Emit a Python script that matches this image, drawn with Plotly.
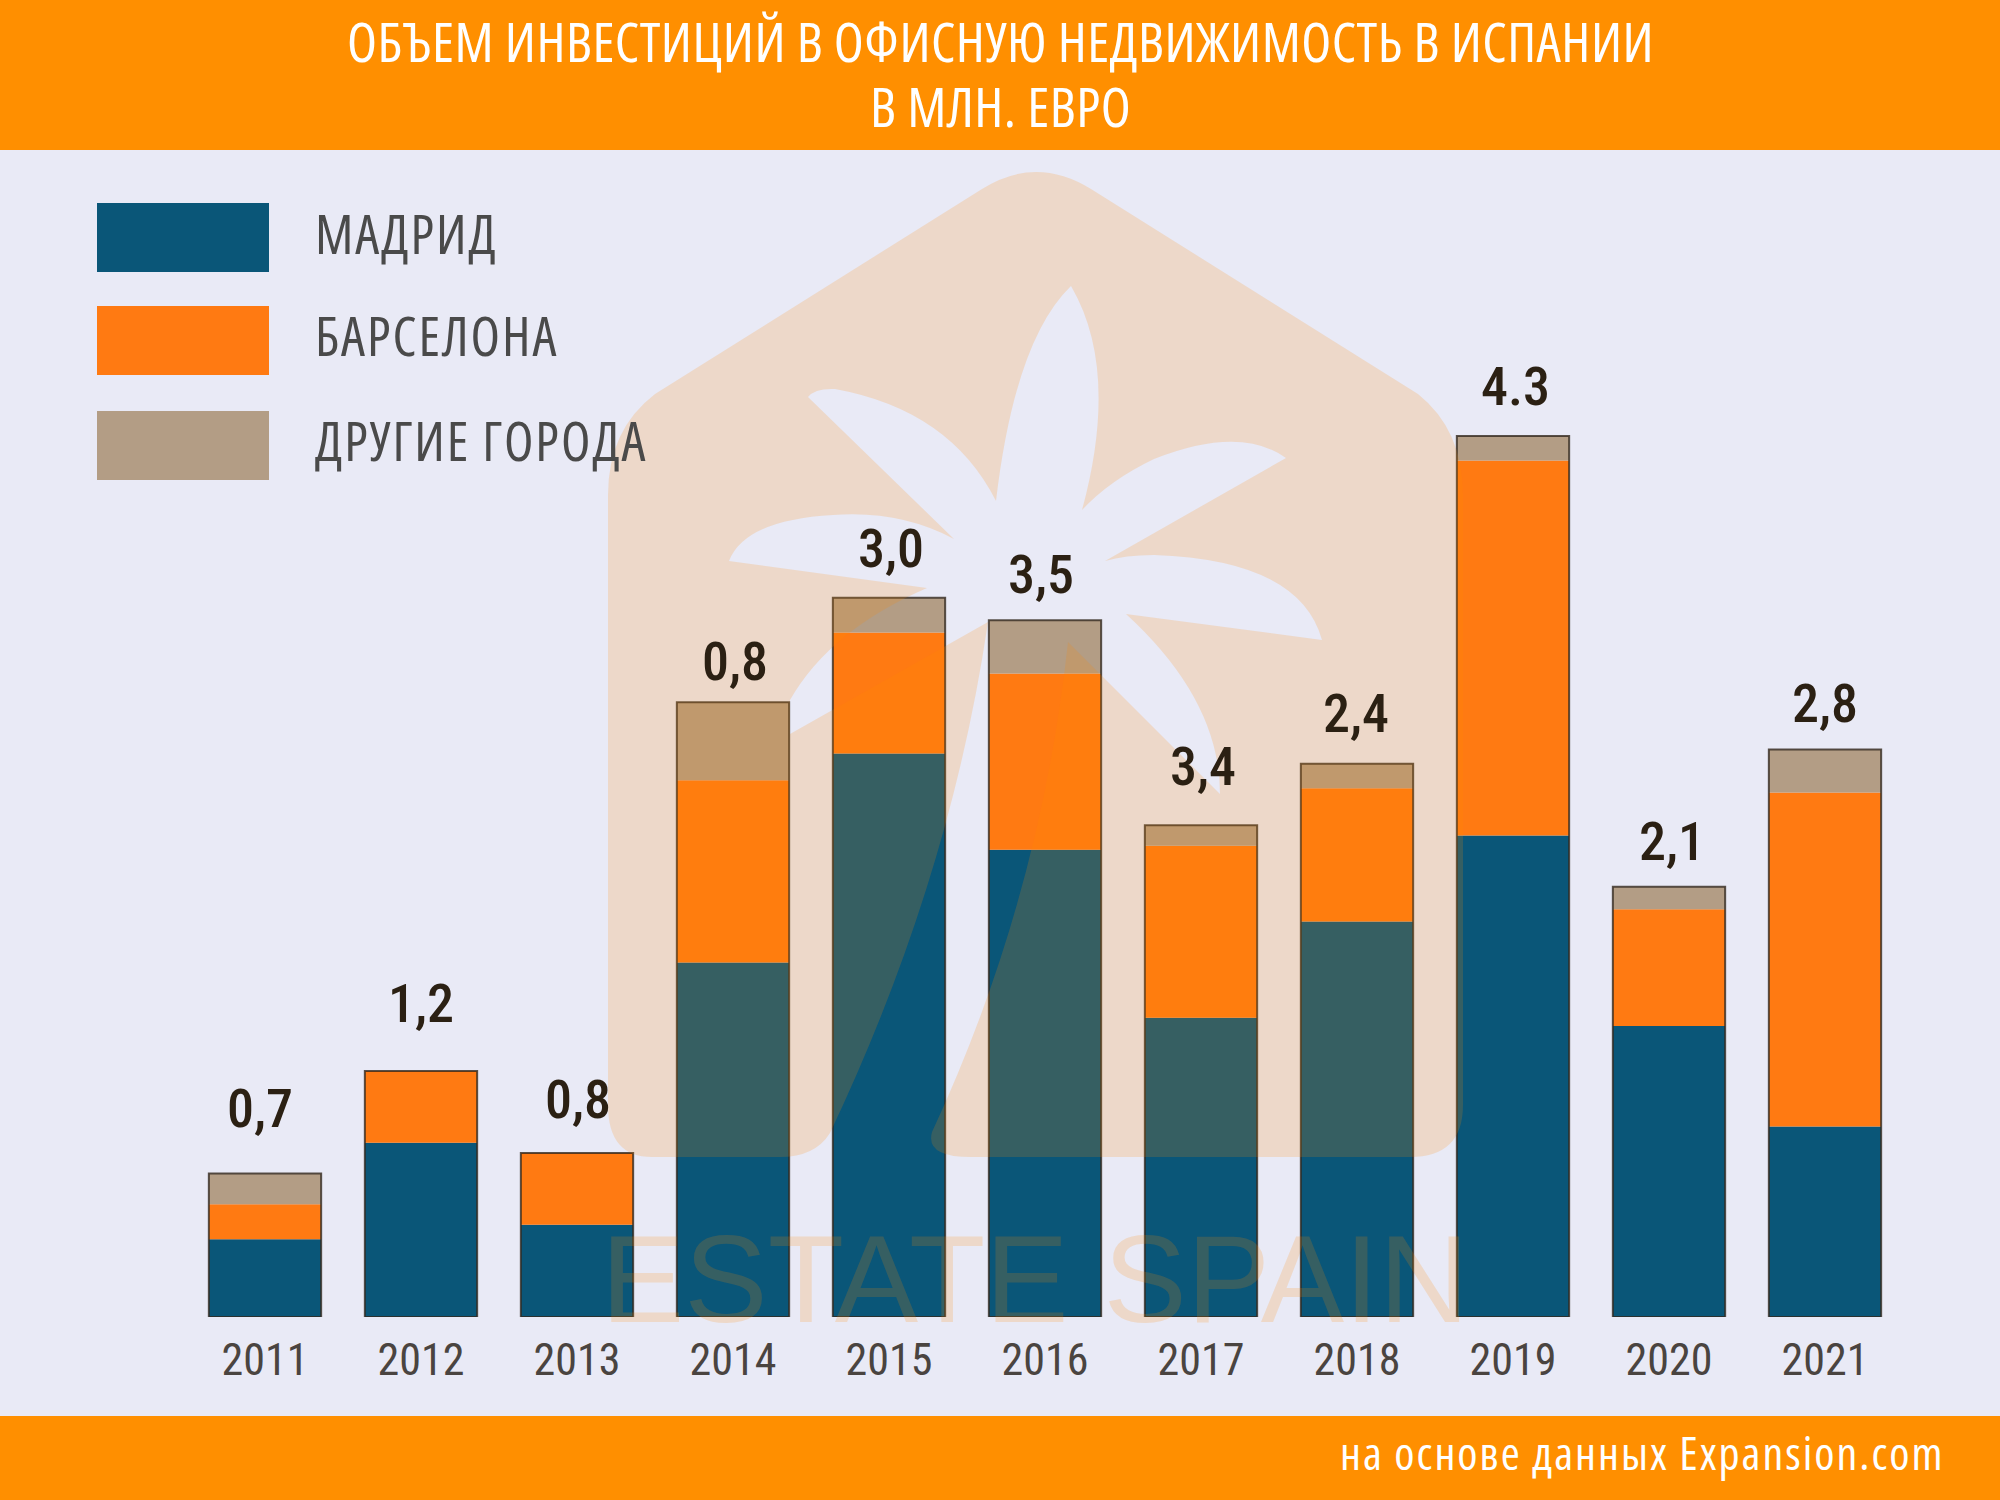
import re

import numpy as np
import plotly.graph_objects as go

PAGE_W, PAGE_H = 2000, 1500

years = ["2011", "2012", "2013", "2014", "2015", "2016", "2017", "2018", "2019", "2020", "2021"]
madrid = [0.38, 0.85, 0.45, 1.73, 2.75, 2.28, 1.46, 1.93, 2.35, 1.42, 0.93]
barcelona = [0.17, 0.35, 0.35, 0.89, 0.59, 0.86, 0.84, 0.65, 1.83, 0.57, 1.63]
others = [0.15, 0.0, 0.0, 0.38, 0.17, 0.26, 0.10, 0.12, 0.12, 0.11, 0.21]
# the printed labels do not always agree with the bar heights in the source
bar_labels = ["0,7", "1,2", "0,8", "0,8", "3,0", "3,5", "3,4", "2,4", "4.3", "2,1", "2,8"]
# the source places its labels by hand, so they sit unevenly over the bars
label_dx = [-5, 0, 1, 2, 2, -4, 2, -1, 2, 3, 0]
label_dy = [20, 22, 8, -5, 4, 0, 13, 5, 4, 0, 0]

series_names = ["МАДРИД", "БАРСЕЛОНА", "ДРУГИЕ ГОРОДА"]
series_colors = ["#0A5678", "#FF7A12", "#B39D85"]

title_lines = ["ОБЪЕМ ИНВЕСТИЦИЙ В ОФИСНУЮ НЕДВИЖИМОСТЬ В ИСПАНИИ", "В МЛН. ЕВРО"]
source_text = "на основе данных Expansion.com"
watermark_text = "ESTATE SPAIN"

CONDENSED = "Roboto Condensed"
ORANGE = "#FF8F00"
BACKGROUND = "#E9EAF6"


def to_paper(path: str) -> str:
    # watermark outline is written in page pixels, shapes want paper units
    def repl(m):
        return f"{float(m.group(1)) / PAGE_W:.5f},{1 - float(m.group(2)) / PAGE_H:.5f}"
    return re.sub(r"(\d+(?:\.\d+)?),(\d+(?:\.\d+)?)", repl, path)


def page_rect(x0, y0, x1, y1, color):
    return dict(
        type="rect", xref="paper", yref="paper", layer="below",
        x0=x0 / PAGE_W, x1=x1 / PAGE_W, y0=1 - y0 / PAGE_H, y1=1 - y1 / PAGE_H,
        fillcolor=color, line_width=0,
    )


def narrow(text, spacing):
    # Open Sans is a variable font, 75% gives its condensed cut
    return f'<span style="font-stretch:75%;letter-spacing:{spacing}px">{text}</span>'


def page_text(x, y, text, size, color, anchor="center", font="Open Sans"):
    return dict(
        xref="paper", yref="paper", x=x / PAGE_W, y=1 - y / PAGE_H,
        text=text, showarrow=False, xanchor=anchor, yanchor="middle",
        font=dict(family=font, size=size, color=color),
    )


# house with the palm cut out of it, open at the bottom where the trunk ends
house_path = (
    "M652,1157 Q608,1157 608,1105 L608,495 Q608,430 655,394 L982,189 Q1036,155 1091,189 "
    "L1418,394 Q1463,430 1463,495 L1463,1105 Q1463,1157 1410,1157 L971,1157 Q925,1157 932,1132 "
    "Q1040,900 1068,642 "
    "L1220,794 Q1220,700 1126,614 L1322,640 Q1300,560 1154,555 Q1125,555 1105,561 "
    "L1286,458 Q1240,425 1154,459 Q1110,480 1082,510 Q1120,370 1071,286 "
    "Q1015,340 996,501 Q950,410 835,389 Q815,388 808,397 L954,539 Q900,510 833,515 Q745,520 729,561 "
    "L927,588 Q830,630 790,700 L790,734 L988,622 "
    "Q950,880 830,1133 Q815,1157 780,1157 Z"
)

base_barcelona = np.array(madrid)
base_others = base_barcelona + np.array(barcelona)
totals = base_others + np.array(others)

fig = go.Figure()
for name, values, base, color in zip(
    series_names, [madrid, barcelona, others],
    [np.zeros(len(years)), base_barcelona, base_others], series_colors,
):
    fig.add_trace(go.Bar(
        x=years, y=values, base=base, name=name,
        marker=dict(color=color, line_width=0), showlegend=False,
    ))
# thin dark outline round each whole stack
fig.add_trace(go.Bar(
    x=years, y=totals, base=np.zeros(len(years)), showlegend=False, hoverinfo="skip",
    marker=dict(color="rgba(0,0,0,0)", line=dict(color="rgba(50,40,30,0.8)", width=2)),
))

annotations = [
    page_text(1000, 41, narrow(title_lines[0], 0.5), 55, "white"),
    page_text(1000, 105, narrow(title_lines[1], 0.5), 55, "white"),
    page_text(1946, 1452, narrow(source_text, 2), 46, "white", anchor="right"),
]
for name, y in zip(series_names, [233, 335, 440]):
    annotations.append(page_text(313, y, narrow(name, 2), 54, "#4A4A4A", anchor="left"))
# numeric-looking category strings count as indices in annotations, so use the index
for i, (total, label) in enumerate(zip(totals, bar_labels)):
    annotations.append(dict(
        xref="x", yref="y", x=i, y=total, text=label, showarrow=False, yanchor="bottom",
        xshift=label_dx[i], yshift=12 + label_dy[i],
        font=dict(family=CONDENSED, size=54, color="#2B2013", weight=500),
    ))
annotations.append(page_text(1035, 1278, watermark_text, 125, "rgba(255,140,0,0.18)", font="Liberation Sans"))

shapes = [
    page_rect(0, 0, PAGE_W, 150, ORANGE),
    page_rect(0, 1416, PAGE_W, PAGE_H, ORANGE),
    page_rect(97, 203, 269, 272, series_colors[0]),
    page_rect(97, 306, 269, 375, series_colors[1]),
    page_rect(97, 411, 269, 480, series_colors[2]),
    dict(type="path", xref="paper", yref="paper", layer="above", path=to_paper(house_path),
         fillcolor="#FF8C00", opacity=0.18, line_width=0),
]

fig.update_layout(
    width=PAGE_W, height=PAGE_H,
    margin=dict(l=0, r=0, t=0, b=0),
    paper_bgcolor=BACKGROUND, plot_bgcolor="rgba(0,0,0,0)",
    barmode="overlay", bargap=0.28,
    xaxis=dict(
        domain=[187 / PAGE_W, 1903 / PAGE_W], type="category",
        showgrid=False, zeroline=False, showline=False, ticks="outside", ticklen=4,
        tickcolor="rgba(0,0,0,0)",
        tickfont=dict(family=CONDENSED, size=44, color="#4A4440"),
    ),
    yaxis=dict(
        domain=[183 / PAGE_H, 1310 / PAGE_H], range=[0, 5.5],
        visible=False,
    ),
    shapes=shapes, annotations=annotations,
)

fig.write_html(
    "out.html",
    config=dict(displayModeBar=False),
    post_script="document.body.style.margin='0';document.body.style.overflow='hidden';",
)
